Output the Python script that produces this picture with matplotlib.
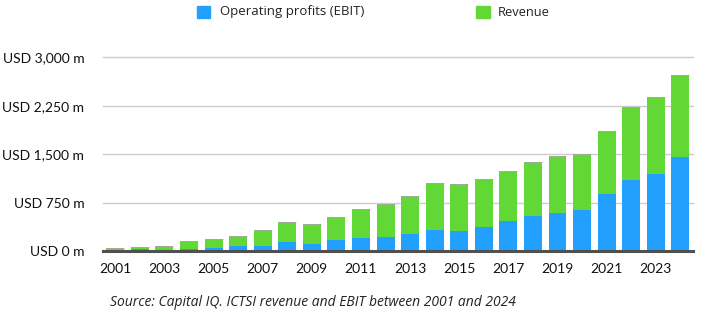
import matplotlib.pyplot as plt
import numpy as np

years = np.arange(2001, 2025)
revenue = [42, 57, 72, 150, 181, 227, 325, 449, 418, 521, 645, 728,
           852, 1048, 1032, 1110, 1234, 1378, 1471, 1502, 1859, 2231, 2380, 2726]
ebit = [5, 26, 17, 26, 46, 77, 82, 145, 114, 170, 201, 212,
        268, 325, 304, 366, 459, 547, 588, 635, 888, 1105, 1198, 1451]
yticks = [0, 750, 1500, 2250, 3000]
ytick_labels = ['USD 0 m', 'USD 750 m', 'USD 1,500 m', 'USD 2,250 m', 'USD 3,000 m']

blue = '#23a0fd'
green = '#62d836'

fig = plt.figure(figsize=(7.03, 3.22), dpi=100)
ax = fig.add_axes([0.1465, 0.2205, 0.8388, 0.6015])

w = 0.73
ax.bar(years, revenue, width=w, color=green, zorder=2)
ax.bar(years, ebit, width=w, color=blue, zorder=3)
# thin grey cap on top of each bar
ax.hlines(revenue, years - w / 2, years + w / 2, color='#a8a8a8', lw=0.6, zorder=4)

ax.set_xlim(2000.5, 2024.5)
ax.set_ylim(0, 3000)
ax.set_yticks(yticks)
ax.set_yticklabels(ytick_labels, fontfamily='Lato', fontsize=10, color='#111111')
ax.set_xticks(years[::2])
ax.set_xticklabels([str(y) for y in years[::2]], fontfamily='Lato', fontsize=10, color='#111111')
ax.tick_params(length=0)
ax.tick_params(axis='x', pad=9)
ax.tick_params(axis='y', pad=13.5)

for y in yticks[1:]:
    ax.axhline(y, color='#cccccc', lw=1, zorder=1, clip_on=False)
ax.axhline(0, color='#505050', lw=2.2, zorder=5, clip_on=False)

for s in ax.spines.values():
    s.set_visible(False)

# legend
fig.patches.append(plt.Rectangle((197.5 / 703, 1 - 18 / 322), 12.5 / 703, 12 / 322,
                                 transform=fig.transFigure, color=blue))
fig.text(220.5 / 703, 1 - 12 / 322, 'Operating profits (EBIT)', fontfamily='Open Sans',
         fontsize=9.5, va='center', color='#222222')
fig.patches.append(plt.Rectangle((476 / 703, 1 - 18 / 322), 13.5 / 703, 12 / 322,
                                 transform=fig.transFigure, color=green))
fig.text(498 / 703, 1 - 12 / 322, 'Revenue', fontfamily='Open Sans',
         fontsize=9.3, va='center', color='#222222')

fig.text(110 / 703, 1 - 302 / 322, 'Source: Capital IQ. ICTSI revenue and EBIT between 2001 and 2024',
         fontfamily='Open Sans', style='italic', fontsize=10, va='center', color='#222222')

fig.savefig('out.png', dpi=100)
